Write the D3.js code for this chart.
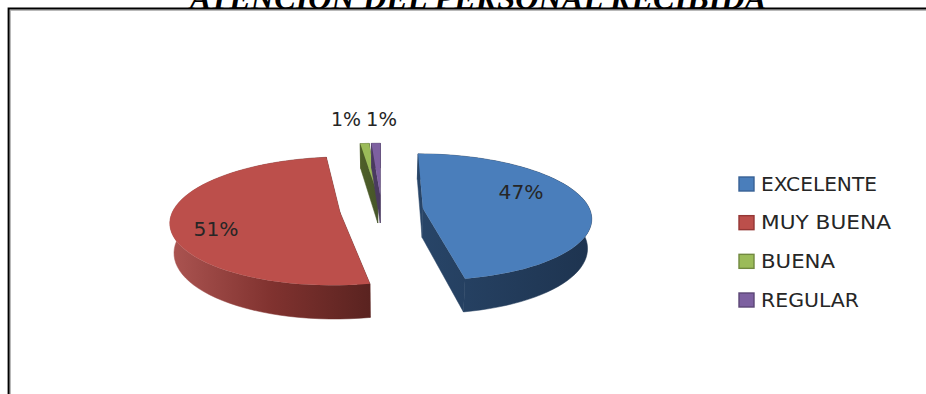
<!DOCTYPE html>
<html>
<head>
<meta charset="utf-8">
<script src="https://cdn.jsdelivr.net/npm/d3@7"></script>
<style>
  html, body { margin: 0; padding: 0; background: #fff; overflow: hidden; }
  svg { display: block; }
</style>
</head>
<body>
<svg id="chart" width="926" height="394"></svg>
<script>
// Survey data
const titleText = "ATENCIÓN DEL PERSONAL RECIBIDA";
const categories = ["EXCELENTE", "MUY BUENA", "BUENA", "REGULAR"];
const shares = [47, 51, 1, 1];
const faceColors = ["#4a7ebb", "#bc4f4b", "#9bbb59", "#7d60a0"];
const legendEdges = ["#386195", "#953735", "#71893f", "#5c4776"];
const legendTextWidths = [116, 130, 74, 98];
const pctTextWidths = [45, 45, 30, 31];
const wallStops = [
  ["#284568", "#1e3450"],
  ["#aa5350", "#80322f", "#5a2320"],
  ["#4e5f28", "#46552a"],
  ["#4a3a60", "#4a3a60"]
];

const svg = d3.select("#chart");
const defs = svg.append("defs");

// Tilted-disc projection: unit-disc coordinates to screen position with mild perspective.
// The lower edge of the disc sits farther from the viewer, so it narrows slightly.
const center = { x: 381.5, y: 210 };
const radiusX = 167, radiusY = 62.4, perspective = 0.134, depth = 29, explode = 0.25, lowerNarrowing = 0.98;

function project(u, v, lowered) {
  const s = 1 / (1 - perspective * v);
  const w = lowered ? lowerNarrowing : 1;
  return [center.x + radiusX * u * s * w, center.y + (radiusY * v + (lowered ? depth : 0)) * s];
}

const pie = d3.pie().sort(null).value(d => d).startAngle(0).endAngle(2 * Math.PI);
const slices = pie(shares);
const line = d3.line();
const color = d3.scaleOrdinal().domain(categories).range(faceColors);

// Title, running off the top of the page and resting on the frame
svg.append("text")
  .attr("x", 478).attr("y", 9)
  .attr("text-anchor", "middle")
  .attr("font-family", "Liberation Serif")
  .attr("font-weight", "bold").attr("font-style", "italic")
  .attr("font-size", 32.3)
  .attr("fill", "#000")
  .text(titleText);

// Chart frame: dark line with a lighter inner edge
svg.append("path")
  .attr("d", "M10.2,394V10.2H926")
  .attr("fill", "none").attr("stroke", "#9a9a9a").attr("stroke-width", 1);
svg.append("path")
  .attr("d", "M8.6,394V8.6H926")
  .attr("fill", "none").attr("stroke", "#000").attr("stroke-width", 2);

function drawSlice(d, i) {
  const mid = (d.startAngle + d.endAngle) / 2;
  const ox = Math.sin(mid) * explode, oy = -Math.cos(mid) * explode;
  const at = (a, low) => project(ox + Math.sin(a), oy - Math.cos(a), low);
  const apex = low => project(ox, oy, low);
  const angles = d3.range(0, 61).map(k => d.startAngle + (d.endAngle - d.startAngle) * k / 60);

  const rimTop = angles.map(a => at(a, false));
  const rimLow = angles.map(a => at(a, true));
  const xs = rimLow.map(p => p[0]).concat(apex(true)[0]);

  const gradId = "wall" + i;
  const grad = defs.append("linearGradient").attr("id", gradId)
    .attr("gradientUnits", "userSpaceOnUse")
    .attr("x1", d3.min(xs)).attr("x2", d3.max(xs)).attr("y1", 0).attr("y2", 0);
  wallStops[i].forEach((c, k, all) => {
    grad.append("stop").attr("offset", k / (all.length - 1)).attr("stop-color", c);
  });

  const g = svg.append("g").attr("class", "slice");
  const wallFill = `url(#${gradId})`;
  // cut faces
  [d.startAngle, d.endAngle].forEach(a => {
    g.append("path")
      .attr("d", line([apex(false), at(a, false), at(a, true), apex(true)]) + "Z")
      .attr("fill", wallFill).attr("stroke", wallFill).attr("stroke-width", 0.5);
  });
  // outer wall
  g.append("path")
    .attr("d", line(rimTop.concat(rimLow.slice().reverse())) + "Z")
    .attr("fill", wallFill).attr("stroke", wallFill).attr("stroke-width", 0.5);
  // top face
  g.append("path")
    .attr("d", line([apex(false)].concat(rimTop)) + "Z")
    .attr("fill", color(categories[i]));
}

// Back-to-front painting order
[2, 3, 0, 1].forEach(i => drawSlice(slices[i], i));

// Percentage labels
const labelFont = "DejaVu Sans";
const labelAnchors = [[521, 199], [216, 236], [346, 126], [381.5, 126]];
svg.selectAll("text.pct").data(shares).join("text")
  .attr("class", "pct")
  .attr("x", (d, i) => labelAnchors[i][0])
  .attr("y", (d, i) => labelAnchors[i][1])
  .attr("text-anchor", "middle")
  .attr("font-family", labelFont).attr("font-size", 19)
  .attr("textLength", (d, i) => pctTextWidths[i])
  .attr("lengthAdjust", "spacingAndGlyphs")
  .attr("fill", "#262626")
  .text(d => d + "%");

// Legend
const legendY = d3.scalePoint().domain(categories).range([184, 300]);
const legend = svg.selectAll("g.item").data(categories).join("g")
  .attr("class", "item")
  .attr("transform", d => `translate(739,${legendY(d)})`);
legend.append("rect")
  .attr("x", 0).attr("y", -7).attr("width", 15).attr("height", 14)
  .attr("fill", d => color(d))
  .attr("stroke", (d, i) => legendEdges[i]).attr("stroke-width", 1.4);
legend.append("text")
  .attr("x", 22).attr("y", 6.5)
  .attr("font-family", labelFont).attr("font-size", 19)
  .attr("textLength", (d, i) => legendTextWidths[i])
  .attr("lengthAdjust", "spacingAndGlyphs")
  .attr("fill", "#262626")
  .text(d => d);
</script>
</body>
</html>
